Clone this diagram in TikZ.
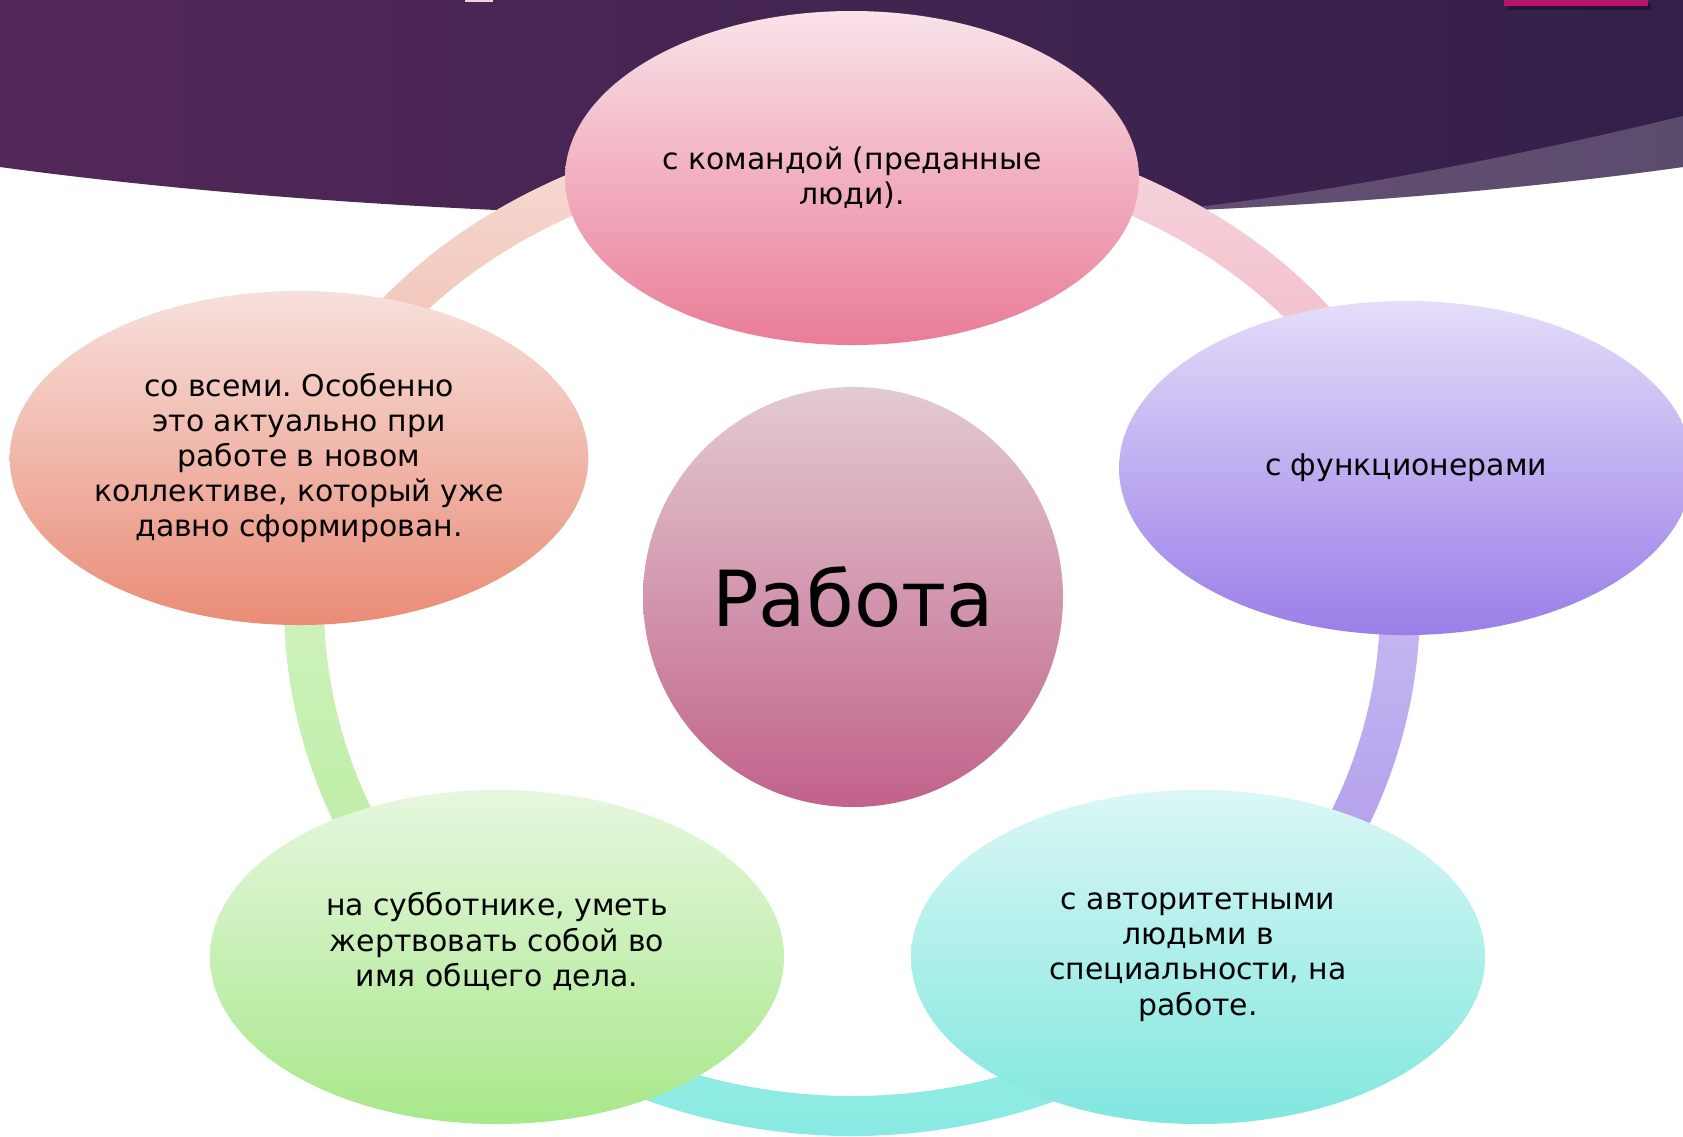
\documentclass[tikz,border=0pt]{standalone}
\usepackage{fontspec}
\setmainfont{DejaVu Sans}
\usetikzlibrary{shapes.geometric}
\definecolor{bannerL}{HTML}{532859}
\definecolor{bannerM}{HTML}{5E2B61}
\definecolor{bannerR}{HTML}{33204A}
\definecolor{accent}{HTML}{B5156B}
\definecolor{komT}{HTML}{F9E3E8}
\definecolor{komB}{HTML}{EA7C98}
\definecolor{funT}{HTML}{E4DDF9}
\definecolor{funB}{HTML}{9A7EE8}
\definecolor{vseT}{HTML}{F7E0DC}
\definecolor{vseB}{HTML}{EA8C76}
\definecolor{subT}{HTML}{E6F7DF}
\definecolor{subB}{HTML}{A8E88A}
\definecolor{avtT}{HTML}{DBF7F5}
\definecolor{avtB}{HTML}{80E7DF}
\definecolor{rabT}{HTML}{E3CAD2}
\definecolor{rabB}{HTML}{C1628A}
\definecolor{ringpinkT}{HTML}{F7D8DF}
\definecolor{ringpinkB}{HTML}{EFAFC0}
\definecolor{ringlilaT}{HTML}{CFC4F3}
\definecolor{ringlilaB}{HTML}{AA93EA}
\definecolor{ringcyanT}{HTML}{9FEEE8}
\definecolor{ringcyanB}{HTML}{82E9E1}
\definecolor{ringgreenT}{HTML}{D7F4C9}
\definecolor{ringgreenB}{HTML}{B5EB98}
\definecolor{ringsalmT}{HTML}{F6DED7}
\definecolor{ringsalmB}{HTML}{F0B3A3}

\begin{document}
\frenchspacing
\begin{tikzpicture}[
    bubble/.style={ellipse, minimum width=5.74cm, minimum height=3.34cm, inner sep=0pt, align=center, font=\fontsize{8.5}{10}\selectfont},
    hub/.style={circle, minimum size=4.2cm, inner sep=0pt, font=\fontsize{22}{26}\selectfont}
]
    \useasboundingbox (0,0) rectangle (16.83,-11.36);
    \fill[white] (0,0) rectangle (16.83,-11.36);

    % Banner at the top
    \shade[left color=bannerL, middle color=bannerM, right color=bannerR] (0,0) -- (0,-1.67) .. controls (5,-2.35) and (12,-2.35) .. (16.83,-1.67) -- (16.83,0) -- cycle;
    \begin{scope}
        \clip (0,0) -- (0,-1.67) .. controls (5,-2.35) and (12,-2.35) .. (16.83,-1.67) -- (16.83,0) -- cycle;
        \fill[white, opacity=0.2] (11,-2.6) -- (11,-2.17) .. controls (13,-2.0) and (15,-1.6) .. (16.83,-1.16) -- (16.83,-2.6) -- cycle;
    \end{scope}
    \fill[accent!20!white] (4.65,0) rectangle (4.93,-0.02);
    \fill[black, opacity=0.3] (15.07,-0.03) rectangle (16.51,-0.1);
    \fill[accent] (15.04,0) rectangle (16.48,-0.06);

    % Ring behind the bubbles: lower part
    \begin{scope}[shift={(8.52,-6.05)}]
        \foreach \a/\b/\ct/\cb in {-47/15/ringlilaT/ringlilaB, -133/-47/ringcyanT/ringcyanB, 165/227/ringgreenT/ringgreenB}
            \shade[top color=\ct, bottom color=\cb] (\a:5.68 and 5.31) arc[start angle=\a, end angle=\b, x radius=5.68, y radius=5.31]
                -- (\b:5.28 and 4.91) arc[start angle=\b, end angle=\a, x radius=5.28, y radius=4.91] -- cycle;
    \end{scope}
    % upper part, flatter
    \begin{scope}[shift={(8.52,-5.60)}]
        \foreach \a/\b/\ct/\cb in {10/90/ringpinkT/ringpinkB, 90/170/ringsalmT/ringsalmB}
            \shade[top color=\ct, bottom color=\cb] (\a:5.82 and 4.42) arc[start angle=\a, end angle=\b, x radius=5.82, y radius=4.42]
                -- (\b:5.42 and 4.02) arc[start angle=\b, end angle=\a, x radius=5.42, y radius=4.02] -- cycle;
    \end{scope}

    % Centre
    \node[hub, top color=rabT, bottom color=rabB] (rabota) at (8.53,-5.97) {Работа};

    % Bubbles
    \node[bubble, top color=komT, bottom color=komB] (komanda) at (8.52,-1.78) {с командой (преданные\\люди).};
    \node[bubble, top color=funT, bottom color=funB] (funkc) at (14.06,-4.68) {с функционерами};
    \node[bubble, top color=avtT, bottom color=avtB] (avtor) at (11.98,-9.57) {с авторитетными\\людьми в\\специальности, на\\работе.};
    \node[bubble, top color=subT, bottom color=subB] (subbot) at (4.97,-9.57) {на субботнике, уметь\\жертвовать собой во\\имя общего дела.\\~};
    \node[bubble, top color=vseT, bottom color=vseB] (vse) at (2.99,-4.58) {со всеми. Особенно\\это актуально при\\работе в новом\\коллективе, который уже\\давно сформирован.};
\end{tikzpicture}
\end{document}
